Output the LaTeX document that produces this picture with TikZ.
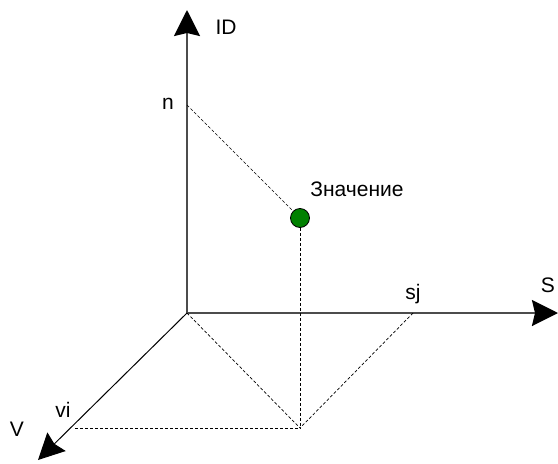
\documentclass[tikz,border=0pt]{standalone}
\usepackage{fontspec}
\setmainfont{Liberation Sans}
\usetikzlibrary{arrows.meta,positioning}

\begin{document}
\begin{tikzpicture}[
    x=1pt, y=-1pt,
    axis/.style={draw=black!70, line width=2.2pt, -{Stealth[length=26pt,width=26pt,inset=3pt,color=black]}},
    vaxis/.style={draw=black, line width=1pt, -{Stealth[length=26pt,width=26pt,inset=3pt,color=black]}},
    proj/.style={draw, line width=0.7pt, dash pattern=on 3pt off 2pt},
    label/.style={font=\fontsize{21}{24}\selectfont, inner sep=1pt},
    point/.style={circle, draw=black, fill=green!50!black, line width=0.8pt, minimum size=19pt, inner sep=0pt}
]
    \useasboundingbox (0,0) rectangle (558,464);

    \coordinate (o) at (187,313);
    \coordinate (idtip) at (187,10);
    \coordinate (stip) at (558,313);
    \coordinate (vtip) at (38,460);
    \coordinate (n) at (187,105);
    \coordinate (sj) at (413,313);
    \coordinate (vi) at (75,428);
    \coordinate (base) at (300,428);
    \node [point] (val) at (300,218) {};

    % axes
    \draw [axis] (o) -- (idtip);
    \draw [axis] (o) -- (stip);
    \draw [vaxis] (o) -- (vtip);

    % projections
    \draw [proj] (n) -- (val);
    \draw [proj] (val) -- (base);
    \draw [proj] (vi) -- (base);
    \draw [proj] (o) -- (base);
    \draw [proj] (sj) -- (base);

    % labels
    \node [label] (lid) at (226,27) {ID};
    \node [label] (ln) at (168,104) {n};
    \node [label] (lval) at (357,189) {Значение};
    \node [label] (ls) at (548,285) {S};
    \node [label] (lsj) at (413,294) {sj};
    \node [label] (lv) at (17,429) {V};
    \node [label] (lvi) at (63,410) {vi};
\end{tikzpicture}
\end{document}
